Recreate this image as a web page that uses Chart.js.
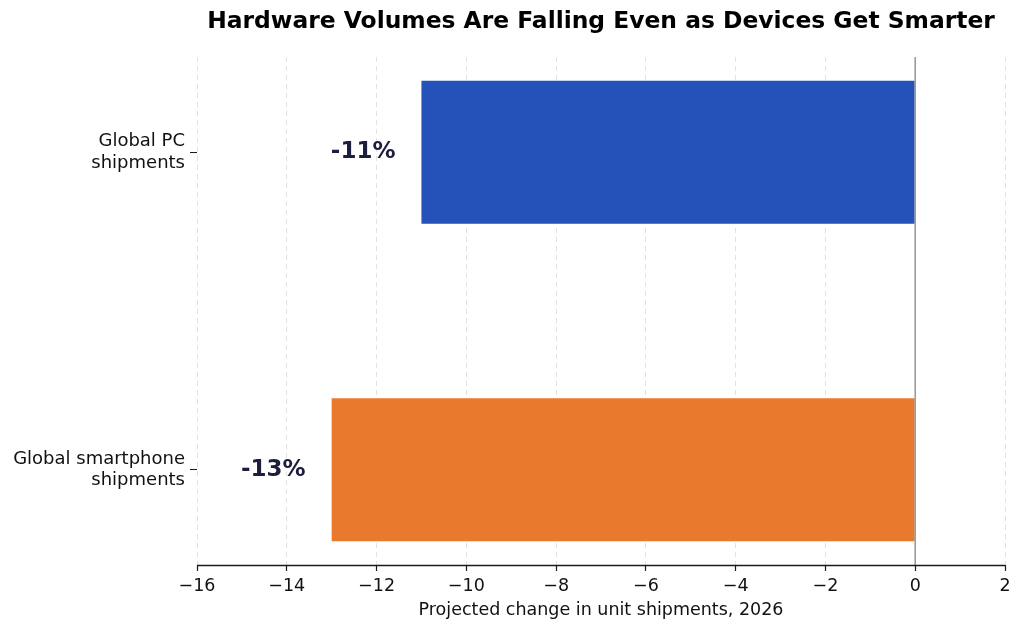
<!DOCTYPE html>
<html lang="en">
<head>
    <meta charset="UTF-8">
    <title>Hardware Volumes Are Falling Even as Devices Get Smarter</title>
    <script src="https://cdn.jsdelivr.net/npm/chart.js"></script>
    <style>
        body {
            margin: 0;
            background-color: #ffffff;
        }

        #wrap {
            width: 1024px;
            height: 635px;
            position: relative;
        }
    </style>
</head>
<body>

    <div id="wrap"><canvas id="barChart"></canvas></div>

    <script>
        // Chart data
        const titleText = 'Hardware Volumes Are Falling Even as Devices Get Smarter';
        const categories = [['Global PC', 'shipments'], ['Global smartphone', 'shipments']];
        const changes = [-11, -13]; // projected % change, 2026
        const barColors = ['#2452b8', '#e8792d'];
        const xTicks = [-16, -14, -12, -10, -8, -6, -4, -2, 0, 2];
        const xLabel = 'Projected change in unit shipments, 2026';

        const fontFamily = '"DejaVu Sans", sans-serif';

        // Title centred over the plot area, not the whole canvas
        const titlePlugin = {
            id: 'plotTitle',
            afterDraw(chart) {
                const { ctx, chartArea } = chart;
                ctx.save();
                ctx.font = 'bold 23.4px ' + fontFamily;
                ctx.fillStyle = '#000000';
                ctx.textAlign = 'center';
                ctx.textBaseline = 'middle';
                ctx.fillText(titleText, (chartArea.left + chartArea.right) / 2, 22);
                ctx.restore();
            }
        };

        // Solid reference line at zero, plus the bottom axis line
        const axisLinesPlugin = {
            id: 'axisLines',
            afterDatasetsDraw(chart) {
                const { ctx, chartArea, scales } = chart;
                const x0 = scales.x.getPixelForValue(0);
                const yb = Math.round(chartArea.bottom) + 0.5;
                ctx.save();
                ctx.strokeStyle = '#9a9a9a';
                ctx.lineWidth = 1.6;
                ctx.beginPath();
                ctx.moveTo(x0, chartArea.top);
                ctx.lineTo(x0, yb);
                ctx.stroke();
                ctx.strokeStyle = '#1a1a1a';
                ctx.lineWidth = 1.3;
                ctx.beginPath();
                ctx.moveTo(chartArea.left, yb);
                ctx.lineTo(chartArea.right, yb);
                ctx.stroke();
                ctx.restore();
            }
        };

        // Percent labels to the left of each bar end
        const valueLabelPlugin = {
            id: 'valueLabels',
            afterDatasetsDraw(chart) {
                const { ctx } = chart;
                const meta = chart.getDatasetMeta(0);
                ctx.save();
                ctx.font = 'bold 23px ' + fontFamily;
                ctx.fillStyle = '#1b1e3c';
                ctx.textAlign = 'right';
                ctx.textBaseline = 'middle';
                meta.data.forEach((bar, i) => {
                    ctx.fillText(changes[i] + '%', bar.x - 26, bar.y);
                });
                ctx.restore();
            }
        };

        const ctx = document.getElementById('barChart').getContext('2d');
        const barChart = new Chart(ctx, {
            type: 'bar',
            data: {
                datasets: [{
                    data: changes.map((v, i) => ({ x: v, y: i })),
                    backgroundColor: barColors,
                    borderWidth: 0,
                    categoryPercentage: 1.0,
                    barPercentage: 0.45
                }]
            },
            options: {
                indexAxis: 'y',
                responsive: true,
                maintainAspectRatio: false,
                animation: false,
                layout: {
                    padding: { top: 57, right: 19, left: 0, bottom: 0 }
                },
                plugins: {
                    legend: { display: false },
                    tooltip: { enabled: false }
                },
                scales: {
                    x: {
                        type: 'linear',
                        min: -16,
                        max: 2,
                        afterBuildTicks: (axis) => {
                            axis.ticks = xTicks.map(v => ({ value: v }));
                        },
                        afterFit: (scale) => { scale.height = 70; },
                        ticks: {
                            padding: 5,
                            color: '#111111',
                            font: { family: fontFamily, size: 17.5 },
                            callback: (value) => value < 0 ? '\u2212' + Math.abs(value) : String(value)
                        },
                        grid: {
                            color: (c) => c.tick && c.tick.value === 0 ? 'rgba(0,0,0,0)' : '#e2e2e2',
                            lineWidth: 1,
                            tickLength: 6,
                            tickColor: '#1a1a1a',
                            tickWidth: 1.2,
                            tickBorderDash: []
                        },
                        border: { display: false, dash: [5, 4] },
                        title: {
                            display: true,
                            text: xLabel,
                            color: '#111111',
                            font: { family: fontFamily, size: 17.5 },
                            padding: { top: 4, bottom: 14 }
                        }
                    },
                    y: {
                        type: 'linear',
                        min: -0.3,
                        max: 1.3,
                        reverse: true,
                        offset: false,
                        afterBuildTicks: (axis) => {
                            axis.ticks = categories.map((c, i) => ({ value: i }));
                        },
                        afterFit: (scale) => { scale.width = 197; },
                        ticks: {
                            padding: 5,
                            autoSkip: false,
                            color: '#111111',
                            font: { family: fontFamily, size: 18, lineHeight: 1.2 },
                            callback: (value) => categories[value]
                        },
                        grid: {
                            offset: false,
                            drawOnChartArea: false,
                            tickLength: 7,
                            tickColor: '#1a1a1a',
                            tickWidth: 1
                        },
                        border: { display: false }
                    }
                }
            },
            plugins: [axisLinesPlugin, valueLabelPlugin, titlePlugin]
        });
    </script>

</body>
</html>
